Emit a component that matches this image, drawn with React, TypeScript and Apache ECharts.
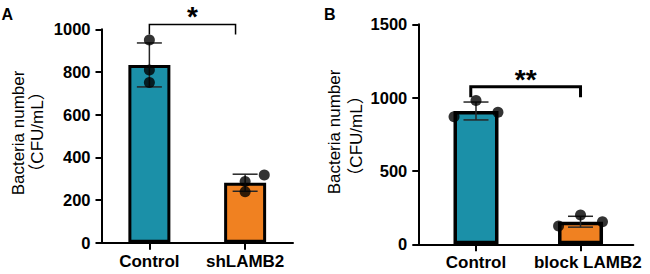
import React, { useEffect, useRef } from "react";
import * as echarts from "echarts";

const groupsA = ["Control", "shLAMB2"];
const meansA = [833, 281];
const sdA = [103, 40];
const pointsA = [
  [950, 809, 751],
  [317, 287, 239],
];
const jitterA = [
  [0, 0, 0],
  [0.2, 0, 0],
];
const bracketA = [0, 1023, 0.9, 976];
const starsA = "*";

const groupsB = ["Control", "block LAMB2"];
const meansB = [909, 154];
const sdB = [61, 37];
const pointsB = [
  [870, 980, 900],
  [125, 200, 154],
];
const jitterB = [
  [-0.21, 0, 0.21],
  [-0.21, 0, 0.21],
];
const bracketB = [-0.05, 1074, 1.0, 1002];
const starsB = "**";

const yTitle1 = "Bacteria number";
const yTitle2 = "（CFU/mL）";

const colors = ["#1B90A8", "#F08121"];
const FONT = "Liberation Sans, Arial, Noto Sans CJK SC, sans-serif";

function errRender(params: any, api: any) {
  const x = api.value(0);
  const m = api.value(1);
  const s = api.value(2);
  const top = api.coord([x, m + s]);
  const bot = api.coord([x, m - s]);
  const hw = 12.5;
  const st = { stroke: "#262626", lineWidth: 1.5 };
  return {
    type: "group",
    children: [
      { type: "line", shape: { x1: top[0], y1: top[1], x2: bot[0], y2: bot[1] }, style: st },
      { type: "line", shape: { x1: top[0] - hw, y1: top[1], x2: top[0] + hw, y2: top[1] }, style: st },
      { type: "line", shape: { x1: bot[0] - hw, y1: bot[1], x2: bot[0] + hw, y2: bot[1] }, style: st },
    ],
  };
}

function bracketRender(lw: number, stars: string, fs: number, gap: number) {
  return (params: any, api: any) => {
    const x1 = api.value(0);
    const lvl = api.value(1);
    const x2 = api.value(2);
    const drop = api.value(3);
    const a = api.coord([x1, drop]);
    const b = api.coord([x1, lvl]);
    const c = api.coord([x2, lvl]);
    const d = api.coord([x2, drop]);
    return {
      type: "group",
      children: [
        {
          type: "polyline",
          shape: { points: [a, b, c, d] },
          style: { stroke: "#000", lineWidth: lw, fill: "none" },
        },
        {
          type: "text",
          x: (b[0] + c[0]) / 2,
          y: b[1] - gap,
          style: {
            text: stars,
            fontSize: fs,
            fontWeight: "bold",
            fontFamily: FONT,
            fill: "#000",
            align: "center",
            verticalAlign: "middle",
          },
        },
      ],
    };
  };
}

function scatterData(points: number[][], jitter: number[][]) {
  const out: number[][] = [];
  points.forEach((grp, i) => grp.forEach((v, j) => out.push([i + jitter[i][j], v])));
  return out;
}

const axisLineStyle = { color: "#000", width: 2 };

function xAxis(gridIndex: number, names: string[], min: number, max: number, labelAt: number[]) {
  return {
    type: "value",
    gridIndex,
    min,
    max,
    splitLine: { show: false },
    axisLine: { show: true, onZero: false, lineStyle: axisLineStyle },
    axisTick: { show: true, length: 7, lineStyle: axisLineStyle, customValues: [0, 1] },
    axisLabel: {
      customValues: labelAt,
      color: "#000",
      fontSize: 17,
      fontWeight: "bold",
      fontFamily: FONT,
      margin: 10,
      formatter: (v: number) => names[Math.round(v)],
    },
  };
}

function yAxis(gridIndex: number, max: number, interval: number) {
  return {
    type: "value",
    gridIndex,
    min: 0,
    max,
    interval,
    splitLine: { show: false },
    axisLine: { show: true, onZero: false, lineStyle: axisLineStyle },
    axisTick: { show: true, length: 6, lineStyle: axisLineStyle },
    axisLabel: {
      color: "#000",
      fontSize: 16.5,
      fontWeight: "bold",
      fontFamily: FONT,
      margin: 11,
      formatter: (v: number) => String(v),
    },
  };
}

function titleText(x: number, y: number, text: string) {
  return {
    type: "text",
    x,
    y,
    rotation: Math.PI / 2,
    style: {
      text,
      fontSize: 17,
      fontFamily: FONT,
      fill: "#000",
      align: "center",
      verticalAlign: "middle",
    },
  };
}

export default function App() {
  const ref = useRef<HTMLDivElement>(null);
  useEffect(() => {
    if (!ref.current) return;
    const chart = echarts.init(ref.current, undefined, { renderer: "svg" });
    const option: any = {
      animation: false,
      grid: [
        { left: 101.5, top: 29.3, width: 191.5, height: 213.4 },
        { left: 418.3, top: 24.3, width: 215, height: 220 },
      ],
      xAxis: [
        xAxis(0, groupsA, -0.5, 1.5, [0, 1]),
        xAxis(1, groupsB, -0.552, 1.505, [0, 1.07]),
      ],
      yAxis: [yAxis(0, 1000, 200), yAxis(1, 1500, 500)],
      graphic: [
        titleText(18, 133, yTitle1),
        titleText(37, 132, yTitle2),
        titleText(334, 132, yTitle1),
        titleText(356, 136, yTitle2),
        {
          type: "text",
          x: 1.5,
          y: 6,
          style: { text: "A", fontSize: 16, fontWeight: "bold", fontFamily: FONT, fill: "#000" },
        },
        {
          type: "text",
          x: 324,
          y: 6,
          style: { text: "B", fontSize: 16, fontWeight: "bold", fontFamily: FONT, fill: "#000" },
        },
      ],
      series: [
        {
          type: "bar",
          xAxisIndex: 0,
          yAxisIndex: 0,
          barWidth: 42,
          data: meansA.map((v, i) => ({ value: [i, v], itemStyle: { color: colors[i] } })),
          itemStyle: { borderColor: "#000", borderWidth: 3 },
          z: 2,
        },
        {
          type: "custom",
          xAxisIndex: 0,
          yAxisIndex: 0,
          data: meansA.map((m, i) => [i, m, sdA[i]]),
          renderItem: errRender,
          z: 3,
        },
        {
          type: "scatter",
          xAxisIndex: 0,
          yAxisIndex: 0,
          data: scatterData(pointsA, jitterA),
          symbolSize: 11,
          itemStyle: { color: "#000" },
          z: 4,
        },
        {
          type: "custom",
          xAxisIndex: 0,
          yAxisIndex: 0,
          data: [bracketA],
          renderItem: bracketRender(1.5, starsA, 28, 7.5),
          clip: false,
          z: 3,
        },
        {
          type: "bar",
          xAxisIndex: 1,
          yAxisIndex: 1,
          barWidth: 45,
          data: meansB.map((v, i) => ({ value: [i, v], itemStyle: { color: colors[i] } })),
          itemStyle: { borderColor: "#000", borderWidth: 3.5 },
          z: 2,
        },
        {
          type: "custom",
          xAxisIndex: 1,
          yAxisIndex: 1,
          data: meansB.map((m, i) => [i, m, sdB[i]]),
          renderItem: errRender,
          z: 3,
        },
        {
          type: "scatter",
          xAxisIndex: 1,
          yAxisIndex: 1,
          data: scatterData(pointsB, jitterB),
          symbolSize: 11,
          itemStyle: { color: "#000" },
          z: 4,
        },
        {
          type: "custom",
          xAxisIndex: 1,
          yAxisIndex: 1,
          data: [bracketB],
          renderItem: bracketRender(3, starsB, 28, 7.5),
          clip: false,
          z: 3,
        },
      ],
    };
    chart.setOption(option);
    return () => chart.dispose();
  }, []);
  return (
    <div
      ref={ref}
      style={{ position: "absolute", left: 0, top: 0, width: 650, height: 274, background: "#fff" }}
    />
  );
}
